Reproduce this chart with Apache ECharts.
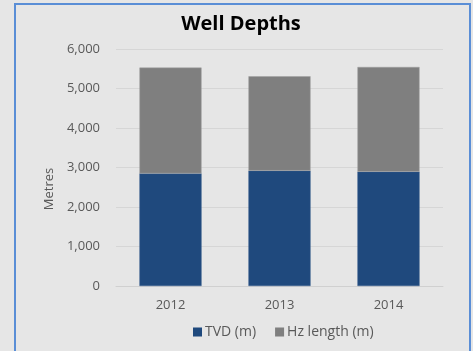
<!DOCTYPE html>
<html>
<head>
<meta charset="utf-8">
<script src="https://cdn.jsdelivr.net/npm/echarts@6/dist/echarts.min.js"></script>
<style>
  html, body { margin: 0; padding: 0; background: #E6E6E6; }
  #chart { width: 473px; height: 351px; }
</style>
</head>
<body>
<div id="chart"></div>
<script>
// Well depth data by year (metres)
const years = ['2012', '2013', '2014'];
const tvd = [2850, 2920, 2895];
const hzLength = [2680, 2390, 2650];
const seriesNames = ['TVD (m)', 'Hz length (m)'];
const yTicks = { min: 0, max: 6000, interval: 1000 };

const labelFont = '"Open Sans", sans-serif';
const chart = echarts.init(document.getElementById('chart'));

chart.setOption({
  backgroundColor: '#E6E6E6',
  animation: false,
  title: {
    text: 'Well Depths',
    left: 236,
    top: 9,
    textAlign: 'center',
    textStyle: { fontFamily: labelFont, fontWeight: 'bold', fontSize: 20, color: '#000000' }
  },
  graphic: [
    {
      type: 'rect',
      shape: { x: 15, y: 4, width: 455, height: 400 },
      style: { fill: 'none', stroke: '#5A8ED6', lineWidth: 2 },
      silent: true
    },
    {
      type: 'text',
      x: 49,
      y: 189,
      rotation: Math.PI / 2,
      style: {
        text: 'Metres',
        fontFamily: labelFont,
        fontSize: 13,
        fill: '#595959',
        align: 'center',
        verticalAlign: 'middle'
      }
    }
  ],
  legend: {
    left: 188,
    top: 320,
    icon: 'rect',
    itemWidth: 9,
    itemHeight: 9,
    itemGap: 19,
    itemStyle: { borderWidth: 0 },
    textStyle: { fontFamily: labelFont, fontSize: 14, color: '#595959', padding: [0, 0, 0, -2] },
    data: seriesNames
  },
  grid: { left: 116, right: 30, top: 49, bottom: 65 },
  xAxis: {
    type: 'category',
    data: years,
    axisLine: { lineStyle: { color: '#D0D0D0', width: 1 } },
    axisTick: { show: false },
    axisLabel: { fontFamily: labelFont, fontSize: 13, color: '#595959', margin: 13 }
  },
  yAxis: {
    type: 'value',
    min: yTicks.min,
    max: yTicks.max,
    interval: yTicks.interval,
    axisLine: { show: false },
    axisTick: { show: false },
    splitLine: { lineStyle: { color: '#D6D6D6', width: 1 } },
    axisLabel: {
      fontFamily: labelFont,
      fontSize: 13,
      color: '#595959',
      margin: 16,
      formatter: v => v.toLocaleString('en-US')
    }
  },
  series: [
    {
      name: seriesNames[0],
      type: 'bar',
      stack: 'depth',
      data: tvd,
      barCategoryGap: '43%',
      itemStyle: { color: '#1F497D', borderColor: '#3A5F8F', borderWidth: 0.5 }
    },
    {
      name: seriesNames[1],
      type: 'bar',
      stack: 'depth',
      data: hzLength,
      barCategoryGap: '43%',
      itemStyle: { color: '#7F7F7F', borderColor: '#A0A0A0', borderWidth: 0.5 }
    }
  ]
});
</script>
</body>
</html>
